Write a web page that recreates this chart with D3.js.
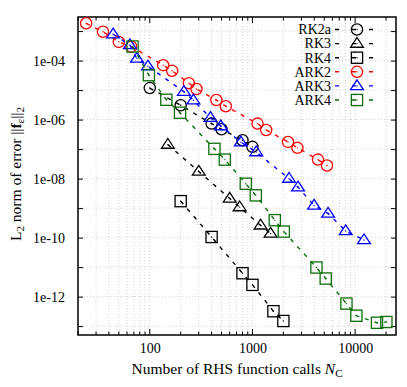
<!DOCTYPE html>
<html><head><meta charset="utf-8">
<script src="https://cdn.jsdelivr.net/npm/d3@7"></script>
<style>body{margin:0;background:#fff}svg{display:block}text{font-family:"Liberation Serif","DejaVu Serif",serif}</style>
</head><body><svg id="c" width="407" height="387"></svg>
<script>
// ---- data ----
const seriesNames = ["RK2a","RK3","RK4","ARK2","ARK3","ARK4"];
const seriesColors = ["#000000","#000000","#000000","#ff0000","#0000ff","#0b6e0b"];
const seriesMarkers = ["circle","triangle","square","circle","triangle","square"];
const rk2aN = [100,200,400,500,800,1000];
const rk2aE = [1.17e-5,3.06e-6,7.3e-7,4.7e-7,2.0e-7,1.19e-7];
const rk3N = [150,300,600,750,1200,1500];
const rk3E = [1.42e-7,1.74e-8,2.13e-9,1.08e-9,2.6e-10,1.38e-10];
const rk4N = [200,400,800,1000,1600,2000];
const rk4E = [1.72e-9,1.05e-10,6.2e-12,2.5e-12,3.2e-13,1.49e-13];
const ark2N = [24,35,50,66,135,165,240,285,445,550,1120,1360,2220,2740,4350,5320];
const ark2E = [1.84e-3,9.5e-4,4.3e-4,2.97e-4,7.0e-5,4.5e-5,1.72e-5,1.09e-5,4.6e-6,2.84e-6,7.3e-7,4.45e-7,1.75e-7,1.1e-7,4.4e-8,2.77e-8];
const ark3N = [44,64,75,96,215,266,390,492,771,1090,2270,2780,3980,5450,8090,12190];
const ark3E = [7.8e-4,3.39e-4,1.17e-4,6.4e-5,8.8e-6,4.5e-6,1.16e-6,6.0e-7,1.72e-7,7.9e-8,1.0e-8,5.1e-9,1.23e-9,6.6e-10,1.67e-10,8.3e-11];
const ark4N = [68,98,145,197,426,538,861,1078,1650,2020,4200,5170,8230,10280,16320,20150];
const ark4E = [3.0e-4,3.2e-5,4.7e-6,1.71e-6,1.02e-7,4.4e-8,6.7e-9,2.7e-9,3.9e-10,1.6e-10,9.7e-12,4.1e-12,5.8e-13,2.25e-13,1.3e-13,1.38e-13];
const xTickLabels = [100,1000,10000];
const yTickLabelValues = [1e-4,1e-6,1e-8,1e-10,1e-12];
const yTickLabels = ["1e-04","1e-06","1e-08","1e-10","1e-12"];
const xDomain = [20,25000];
const yDomain = [5e-14,3e-3];

const seriesN = [rk2aN,rk3N,rk4N,ark2N,ark3N,ark4N];
const seriesE = [rk2aE,rk3E,rk4E,ark2E,ark3E,ark4E];

// ---- layout ----
const L=78, R=396, T=17, B=335;
const svg = d3.select("#c");
const x = d3.scaleLog().domain(xDomain).range([L,R]);
const y = d3.scaleLog().domain(yDomain).range([B,T]);

const xMinor=[];
for(let k=1;k<=4;k++){for(let m=1;m<=9;m++){const v=m*Math.pow(10,k);if(v>=xDomain[0]&&v<=xDomain[1])xMinor.push(v);}}
const yDec=[];
for(let k=-13;k<=-3;k++)yDec.push(Math.pow(10,k));

// grid
const grid = svg.append("g").attr("stroke","#c8c8c8").attr("stroke-width",0.8).attr("stroke-dasharray","1,2");
grid.selectAll(".gx").data(xMinor).join("line").attr("x1",d=>x(d)).attr("x2",d=>x(d)).attr("y1",T).attr("y2",B);
grid.selectAll(".gy").data(yDec).join("line").attr("y1",d=>y(d)).attr("y2",d=>y(d)).attr("x1",L).attr("x2",R);

function styleAxis(g){g.select(".domain").remove();g.selectAll("line").attr("stroke","#000").attr("stroke-width",1);g.selectAll("text").attr("font-size",14).attr("fill","#000").attr("font-family","Liberation Serif, serif");}
const isMajor = v=>xTickLabels.includes(v);
const xb = svg.append("g");
xb.selectAll("line.b").data(xMinor).join("line").attr("class","b").attr("x1",d=>x(d)).attr("x2",d=>x(d)).attr("y1",B).attr("y2",d=>B-(isMajor(d)?6:3.5)).attr("stroke","#000");
xb.selectAll("line.t").data(xMinor).join("line").attr("class","t").attr("x1",d=>x(d)).attr("x2",d=>x(d)).attr("y1",T).attr("y2",d=>T+(isMajor(d)?6:3.5)).attr("stroke","#000");
svg.append("g").attr("transform",`translate(0,${B})`).call(d3.axisBottom(x).tickValues(xTickLabels).tickSize(0).tickPadding(8).tickFormat(d=>String(d))).call(styleAxis);

svg.append("g").attr("transform",`translate(${L},0)`).call(d3.axisLeft(y).tickValues(yDec).tickSizeInner(-5).tickSizeOuter(0).tickFormat(d=>{const i=yTickLabelValues.findIndex(v=>Math.abs(Math.log10(v)-Math.log10(d))<1e-6);return i>=0?yTickLabels[i]:"";}).tickPadding(13)).call(styleAxis);
svg.append("g").attr("transform",`translate(${R},0)`).call(d3.axisRight(y).tickValues(yDec).tickSizeInner(-5).tickSizeOuter(0).tickFormat("")).call(styleAxis);

// frame
svg.append("rect").attr("x",L).attr("y",T).attr("width",R-L).attr("height",B-T).attr("fill","none").attr("stroke","#000").attr("stroke-width",1.5);

function marker(g,type,cx,cy,color){
  const s=5.6;
  if(type==="circle") g.append("circle").attr("cx",cx).attr("cy",cy).attr("r",s).attr("fill","none").attr("stroke",color).attr("stroke-width",1.3);
  else if(type==="triangle") g.append("path").attr("d",`M${cx},${cy-s-0.5}L${cx+s+0.8},${cy+s*0.65}L${cx-s-0.8},${cy+s*0.65}Z`).attr("fill","none").attr("stroke",color).attr("stroke-width",1.3);
  else g.append("rect").attr("x",cx-s).attr("y",cy-s).attr("width",2*s).attr("height",2*s).attr("fill","none").attr("stroke",color).attr("stroke-width",1.3);
  g.append("circle").attr("cx",cx).attr("cy",cy).attr("r",0.7).attr("fill",color);
}

const line = d3.line().x(d=>x(d[0])).y(d=>y(d[1]));
seriesNames.forEach((name,i)=>{
  const pts = seriesN[i].map((n,j)=>[n,seriesE[i][j]]);
  const g = svg.append("g");
  g.append("path").attr("d",line(pts)).attr("fill","none").attr("stroke",seriesColors[i]).attr("stroke-width",1.4).attr("stroke-dasharray","4,6");
  pts.forEach(p=>marker(g,seriesMarkers[i],x(p[0]),y(p[1]),seriesColors[i]));
});

// legend
const lg = svg.append("g");
seriesNames.forEach((name,i)=>{
  const yy = 29.5 + i*14.1;
  lg.append("text").attr("x",331).attr("y",yy+4.8).attr("text-anchor","end").attr("font-size",14).text(name);
  lg.append("line").attr("x1",335).attr("x2",379).attr("y1",yy).attr("y2",yy).attr("stroke",seriesColors[i]).attr("stroke-width",1.4).attr("stroke-dasharray","4,13");
  marker(lg,seriesMarkers[i],357,yy,seriesColors[i]);
});

// axis labels
const xl = svg.append("text").attr("x",237).attr("y",374).attr("text-anchor","middle").attr("font-size",15.5);
xl.append("tspan").text("Number of RHS function calls ");
xl.append("tspan").attr("font-style","italic").text("N");
xl.append("tspan").attr("font-size",11).attr("dy",3).text("C");

const yl = svg.append("text").attr("transform","translate(21,174) rotate(-90)").attr("text-anchor","middle").attr("font-size",15.5);
yl.append("tspan").text("L");
yl.append("tspan").attr("font-size",11).attr("dy",3).text("2");
yl.append("tspan").attr("dy",-3).text(" norm of error ||");
yl.append("tspan").attr("font-weight","bold").text("f");
yl.append("tspan").attr("font-size",11).attr("dy",3).text("ε");
yl.append("tspan").attr("dy",-3).text("||");
yl.append("tspan").attr("font-size",11).attr("dy",3).text("2");
</script></body></html>
